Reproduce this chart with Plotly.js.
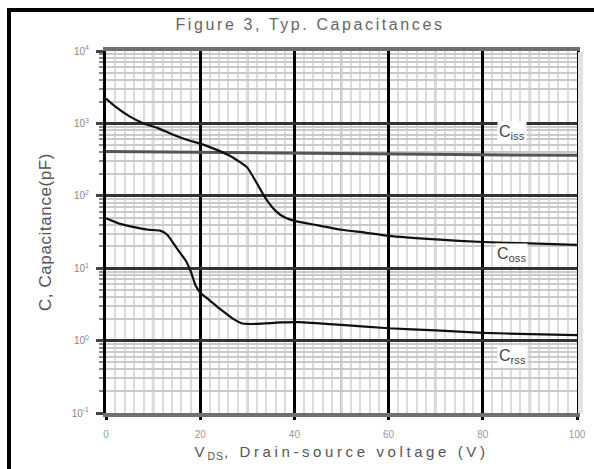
<!DOCTYPE html>
<html>
<head>
<meta charset="utf-8">
<script src="https://cdn.plot.ly/plotly-3.0.1.min.js"></script>
<style>
  html, body { margin: 0; padding: 0; background: #fff; }
  #chart { width: 594px; height: 469px; }
</style>
</head>
<body>
<div id="chart"></div>
<script>
// ---- data ----
const vCiss = [0, 20, 40, 60, 80, 100];
const ciss  = [410, 398, 385, 375, 368, 362];

const vCoss = [0, 2, 5, 8, 11, 14, 17, 20, 23, 26, 28, 30, 32, 34, 36, 38, 40, 45, 50, 55, 60, 70, 80, 90, 100];
const coss  = [2200, 1700, 1250, 1000, 860, 710, 600, 525, 445, 365, 305, 245, 150, 90, 62, 50, 45, 39, 34, 31, 28, 25, 23, 22, 21];

const vCrss = [0, 3, 6, 9, 11.5, 13, 15, 17, 18, 19, 20, 22, 24, 27, 29, 32, 37, 41, 50, 60, 70, 80, 90, 100];
const crss  = [49, 41, 37, 34, 33, 29, 19, 12.5, 9, 5.8, 4.6, 3.6, 2.8, 2.0, 1.72, 1.7, 1.78, 1.8, 1.65, 1.48, 1.38, 1.28, 1.23, 1.19];

const xTicks = [0, 20, 40, 60, 80, 100];
const yExps  = [-1, 0, 1, 2, 3, 4];

const seriesLabels = ['iss', 'oss', 'rss'];
const titleText  = 'Figure 3, Typ. Capacitances';
const xTitleMain = 'V';
const xTitleSub  = 'DS';
const xTitleRest = ', Drain-source voltage (V)';
const yTitleText = 'C, Capacitance(pF)';

// ---- helpers ----
function sp(t, px) { return '<span style="letter-spacing:' + px + 'px">' + t + '</span>'; }

const FONT = 'Arial';

const yTickVals = yExps.map(e => Math.pow(10, e));
const yTickText = yExps.map(e => '10<sup>' + e + '</sup>');
const xTickText = xTicks.map(v => String(v));

// mid (10,30,...) vertical grid lines
const midShapes = [];
for (let v = 10; v < 100; v += 20) {
  midShapes.push({type: 'line', xref: 'x', yref: 'paper', x0: v, x1: v, y0: 0, y1: 1,
    layer: 'below', line: {color: '#b0b0b0', width: 2.5}});
}

// frame (top and left bars of the cropped figure)
const L = 106, T = 51, W = 471, H = 362;
const px2x = p => (p - L) / W;
const py2y = p => (T + H - p) / H;
const frameShapes = [
  {type: 'line', xref: 'paper', yref: 'paper', x0: px2x(9), x1: px2x(9), y0: py2y(480), y1: py2y(8),
   line: {color: '#000', width: 4}},
  {type: 'line', xref: 'paper', yref: 'paper', x0: px2x(7), x1: px2x(600), y0: py2y(10), y1: py2y(10),
   line: {color: '#000', width: 4}},
  {type: 'rect', xref: 'paper', yref: 'paper', x0: px2x(578), x1: px2x(583), y0: py2y(413), y1: py2y(52),
   line: {width: 0}, fillcolor: '#e2e2e2'}
];

// label positions (x in V, y in log10 pF)
const labelPos = [[86.2, 2.88], [86.0, 1.19], [86.2, -0.22]];
const annotations = seriesLabels.map((s, i) => ({
  x: labelPos[i][0], y: labelPos[i][1], xref: 'x', yref: 'y',
  text: 'C<sub>' + s + '</sub>', showarrow: false, bgcolor: '#fff',
  font: {family: FONT, size: 16, color: '#444'}, borderpad: 1
}));

const traces = [
  {x: vCiss, y: ciss, mode: 'lines', line: {color: '#555', width: 3}, hoverinfo: 'skip'},
  {x: vCoss, y: coss, mode: 'lines', line: {color: '#111', width: 2.2, shape: 'spline', smoothing: 0.6}, hoverinfo: 'skip'},
  {x: vCrss, y: crss, mode: 'lines', line: {color: '#111', width: 2.2, shape: 'spline', smoothing: 0.5}, hoverinfo: 'skip'}
];

const layout = {
  width: 594, height: 469,
  margin: {l: L, r: 594 - L - W, t: T, b: 469 - T - H, pad: 0},
  paper_bgcolor: '#fff', plot_bgcolor: '#fff',
  showlegend: false,
  font: {family: FONT},
  title: {
    text: sp(titleText, 2.6),
    font: {family: FONT, size: 16, color: '#666'},
    x: 310 / 594, xref: 'container', xanchor: 'center',
    y: 1 - 24 / 469, yref: 'container', yanchor: 'middle'
  },
  xaxis: {
    range: [0, 100], tickmode: 'array', tickvals: xTicks, ticktext: xTickText,
    showgrid: true, gridcolor: '#000', gridwidth: 3,
    minor: {dtick: 2, showgrid: true, gridcolor: '#dcdcdc', gridwidth: 2},
    showline: true, linecolor: '#707070', linewidth: 4, mirror: true,
    zeroline: false, ticks: 'outside', ticklen: 3, tickwidth: 3, tickcolor: '#000',
    ticklabelstandoff: 6,
    tickfont: {family: FONT, size: 10, color: '#999'},
    title: {
      text: sp(xTitleMain, 3) + '<sub>' + sp(xTitleSub, 1) + '</sub>' + sp(xTitleRest, 3.6),
      font: {family: FONT, size: 15, color: '#555'}, standoff: 8
    }
  },
  yaxis: {
    type: 'log', range: [-1, 4], tickmode: 'array', tickvals: yTickVals, ticktext: yTickText,
    showgrid: true, gridcolor: '#333', gridwidth: 2.5,
    minor: {dtick: 'D1', showgrid: true, gridcolor: '#cacaca', gridwidth: 2,
            ticks: 'outside', ticklen: 4, tickwidth: 2, tickcolor: '#888'},
    showline: true, linecolor: '#000', linewidth: 3, mirror: true,
    zeroline: false, ticks: 'outside', ticklen: 7, tickwidth: 2.5, tickcolor: '#444',
    ticklabelstandoff: 5,
    tickfont: {family: FONT, size: 10, color: '#888'},
    title: {
      text: sp(yTitleText, 0.6),
      font: {family: FONT, size: 17, color: '#555'}, standoff: 16
    }
  },
  shapes: midShapes.concat(frameShapes),
  annotations: annotations
};

Plotly.newPlot('chart', traces, layout, {displayModeBar: false});
</script>
</body>
</html>
